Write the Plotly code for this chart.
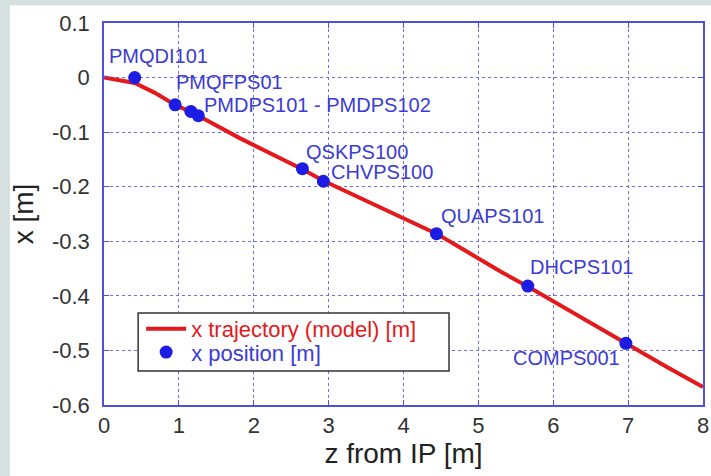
import plotly.graph_objects as go

# Modelled horizontal trajectory along the beam line
traj_z = [0.0, 0.2, 0.41, 0.68, 0.95, 1.16, 1.26, 1.8, 2.35, 2.65, 2.93, 3.6,
          4.44, 4.75, 5.29, 5.66, 6.3, 6.97, 7.5, 8.0]
traj_x = [0.0, -0.004, -0.010, -0.028, -0.050, -0.063, -0.070, -0.110, -0.147,
          -0.168, -0.189, -0.232, -0.286, -0.311, -0.355, -0.383, -0.434,
          -0.488, -0.529, -0.567]

# Measured element positions
elem_z = [0.41, 0.95, 1.16, 1.26, 2.65, 2.93, 4.44, 5.66, 6.97]
elem_x = [0.0, -0.050, -0.062, -0.070, -0.167, -0.190, -0.286, -0.382, -0.487]
elem_names = ["PMQDI101", "PMQFPS01", "PMDPS101 - PMDPS102", "", "QSKPS100",
              "CHVPS100", "QUAPS101", "DHCPS101", "COMPS001"]

x_ticks = [0, 1, 2, 3, 4, 5, 6, 7, 8]
y_ticks = [0.1, 0.0, -0.1, -0.2, -0.3, -0.4, -0.5, -0.6]
y_tick_text = ["0.1", "0", "-0.1", "-0.2", "-0.3", "-0.4", "-0.5", "-0.6"]

# label placement relative to each marker (pixels) and anchor side
label_shift = [(-28, 22, "left"), (-1, 23, "left"), (11, 6, "left"), None,
               (2, 17, "left"), (6, 9, "left"), (3, 18, "left"),
               (0, 19, "left"), (-4, -15, "right")]

FONT = "Liberation Sans, Arial, Helvetica, sans-serif"
RED = "#e3191c"
BLUE = "#1c1ce3"
LABEL_BLUE = "#3b3bd6"
AXIS_BLUE = "#4f4fe0"
GRID_BLUE = "#6f6fe6"

fig = go.Figure()
fig.add_trace(go.Scatter(
    x=traj_z, y=traj_x, mode="lines", name="x trajectory (model) [m]",
    line=dict(color=RED, width=4), legend="legend", showlegend=True,
))
fig.add_trace(go.Scatter(
    x=elem_z, y=elem_x, mode="markers", name="x position [m]",
    marker=dict(color=BLUE, size=13), legend="legend2", showlegend=True,
))

for z, xv, name, sh in zip(elem_z, elem_x, elem_names, label_shift):
    if not name:
        continue
    dx, dy, side = sh
    fig.add_annotation(
        x=z, y=xv, text=name, showarrow=False, xanchor=side, yanchor="middle",
        xshift=dx, yshift=dy, font=dict(family=FONT, size=20, color=LABEL_BLUE),
    )

# legend frame
fig.add_shape(type="rect", xref="paper", yref="paper",
              x0=0.057, x1=0.576, y0=0.089, y1=0.241,
              line=dict(color="#333333", width=1.5), fillcolor="white",
              layer="above")
# white card behind the chart
fig.add_shape(type="rect", xref="paper", yref="paper",
              x0=-0.157, x1=1.02, y0=-0.2, y1=1.046,
              line=dict(width=0), fillcolor="white", layer="below")

axis_common = dict(
    showline=True, linecolor=AXIS_BLUE, linewidth=1.5, mirror="ticks",
    ticks="inside", ticklen=5, tickcolor=AXIS_BLUE, tickwidth=1,
    showgrid=True, gridcolor=GRID_BLUE, griddash="dot", gridwidth=1,
    zeroline=False, tickfont=dict(family=FONT, size=22, color="#333333"),
    automargin=False,
)

fig.update_layout(
    width=711, height=476,
    margin=dict(l=104, r=8, t=23, b=71),
    paper_bgcolor="#d7e0e0", plot_bgcolor="white",
    font=dict(family=FONT),
    showlegend=True,
    xaxis=dict(range=[0, 8], tickvals=x_ticks, ticklabelstandoff=0,
               title=dict(text="z from IP [m]", standoff=4,
                          font=dict(family=FONT, size=28, color="#222222")),
               **axis_common),
    yaxis=dict(range=[-0.6, 0.1], tickvals=y_ticks, ticktext=y_tick_text,
               ticklabelstandoff=8,
               title=dict(text="x [m]", standoff=10,
                          font=dict(family=FONT, size=28, color="#222222")),
               **axis_common),
    legend=dict(x=0.062, y=0.199, xanchor="left", yanchor="middle",
                bgcolor="rgba(0,0,0,0)", borderwidth=0, itemwidth=40,
                font=dict(family=FONT, size=22, color=RED)),
    legend2=dict(x=0.062, y=0.138, xanchor="left", yanchor="middle",
                 bgcolor="rgba(0,0,0,0)", borderwidth=0, itemwidth=40,
                 font=dict(family=FONT, size=22, color=LABEL_BLUE)),
)

fig.write_html("out.html")
